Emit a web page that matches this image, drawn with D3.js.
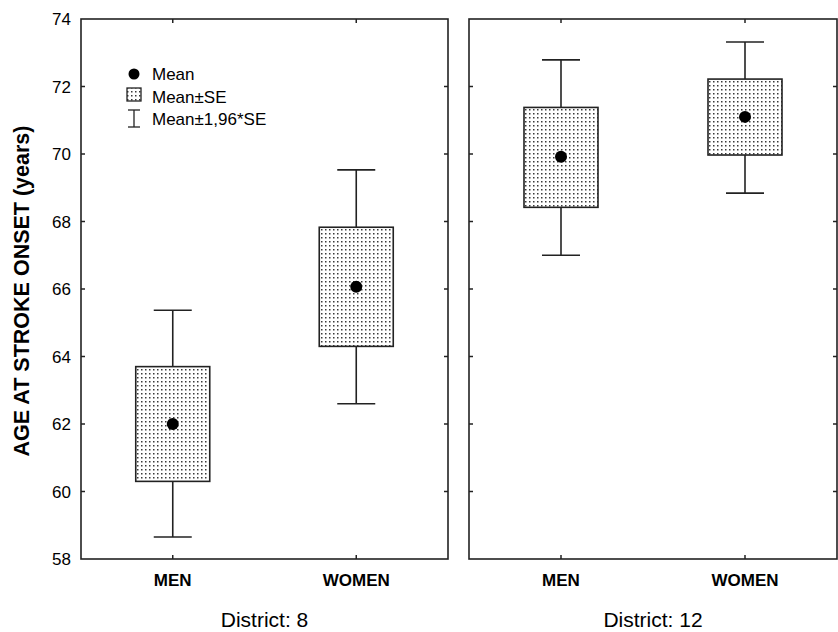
<!doctype html>
<html lang="en">
  <head>
    <meta charset="utf-8">
    <title>Age at stroke onset by district</title>
    <script src="https://d3js.org/d3.v7.min.js"></script>
    <style>
      body { margin: 0; background: #fff; }
      text { font-family: "Liberation Sans", Arial, sans-serif; fill: #000; }
    </style>
  </head>
  <body>
    <div id="container"></div>
  </body>
  <script>
    // data
    const districts = ["District: 8", "District: 12"]
    const sexes = ["MEN", "WOMEN"]
    const means = [[62.0, 66.07], [69.92, 71.1]]
    const seLow = [[60.3, 64.3], [68.42, 69.97]]
    const seHigh = [[63.7, 67.83], [71.38, 72.22]]
    const ciLow = [[58.65, 62.6], [67.0, 68.84]]
    const ciHigh = [[65.37, 69.53], [72.79, 73.32]]
    const yTicks = [58, 60, 62, 64, 66, 68, 70, 72, 74]
    const legendLabels = ["Mean", "Mean±SE", "Mean±1,96*SE"]

    const width = 838
    const height = 632
    const plotTop = 19, plotBottom = 559
    const panels = [[81, 448], [469, 837]]
    const boxW = 74, capW = 38, tickLen = 4
    const lineColor = "#222"

    const svg = d3.select("#container")
      .append("svg")
        .attr("width", width)
        .attr("height", height)

    // dotted fill for the SE boxes
    const pat = svg.append("defs").append("pattern")
      .attr("id", "dots")
      .attr("patternUnits", "userSpaceOnUse")
      .attr("width", 4)
      .attr("height", 4)
    pat.append("rect").attr("width", 4).attr("height", 4).attr("fill", "#fff")
    pat.append("rect").attr("x", 1).attr("y", 1).attr("width", 1.5).attr("height", 1.5).attr("fill", "#3a3a3a")

    const y = d3.scaleLinear().domain([58, 74]).range([plotBottom, plotTop])

    // y tick labels (left panel only)
    svg.append("g")
      .selectAll("text")
      .data(yTicks)
      .join("text")
        .attr("x", 71)
        .attr("y", d => y(d))
        .attr("dy", "0.36em")
        .attr("text-anchor", "end")
        .attr("font-size", 17)
        .text(d => d)

    svg.append("text")
      .attr("transform", `translate(29,${(plotTop + plotBottom) / 2 + 2}) rotate(-90)`)
      .attr("text-anchor", "middle")
      .attr("font-size", 21.5)
      .attr("font-weight", "bold")
      .text("AGE AT STROKE ONSET (years)")

    panels.forEach(function(p, i) {
      const g = svg.append("g")
      const x = d3.scalePoint().domain(sexes).range(p).padding(0.5)

      // inner ticks on all four sides
      g.selectAll(".yl").data(yTicks.slice(1, -1)).join("line")
        .attr("x1", p[0]).attr("x2", p[0] + tickLen)
        .attr("y1", d => y(d)).attr("y2", d => y(d))
        .attr("stroke", lineColor).attr("stroke-width", 1.5)
      g.selectAll(".yr").data(yTicks.slice(1, -1)).join("line")
        .attr("x1", p[1]).attr("x2", p[1] - tickLen)
        .attr("y1", d => y(d)).attr("y2", d => y(d))
        .attr("stroke", lineColor).attr("stroke-width", 1.5)
      g.selectAll(".xt").data(sexes).join("line")
        .attr("x1", d => x(d)).attr("x2", d => x(d))
        .attr("y1", plotTop).attr("y2", plotTop + tickLen)
        .attr("stroke", lineColor).attr("stroke-width", 1.5)
      g.selectAll(".xb").data(sexes).join("line")
        .attr("x1", d => x(d)).attr("x2", d => x(d))
        .attr("y1", plotBottom).attr("y2", plotBottom - tickLen)
        .attr("stroke", lineColor).attr("stroke-width", 1.5)

      // whiskers, SE boxes and means
      sexes.forEach(function(s, j) {
        const cx = x(s)
        g.append("line")
          .attr("x1", cx).attr("x2", cx)
          .attr("y1", y(ciLow[i][j])).attr("y2", y(ciHigh[i][j]))
          .attr("stroke", lineColor).attr("stroke-width", 1.6)
        ;[ciLow[i][j], ciHigh[i][j]].forEach(function(v) {
          g.append("line")
            .attr("x1", cx - capW / 2).attr("x2", cx + capW / 2)
            .attr("y1", y(v)).attr("y2", y(v))
            .attr("stroke", lineColor).attr("stroke-width", 1.6)
        })
        g.append("rect")
          .attr("x", cx - boxW / 2)
          .attr("y", y(seHigh[i][j]))
          .attr("width", boxW)
          .attr("height", y(seLow[i][j]) - y(seHigh[i][j]))
          .attr("fill", "url(#dots)")
          .attr("stroke", lineColor).attr("stroke-width", 1.6)
        g.append("circle")
          .attr("cx", cx).attr("cy", y(means[i][j]))
          .attr("r", 6)
          .attr("fill", "#000")
      })

      // frame
      g.append("rect")
        .attr("x", p[0]).attr("y", plotTop)
        .attr("width", p[1] - p[0]).attr("height", plotBottom - plotTop)
        .attr("fill", "none")
        .attr("stroke", lineColor).attr("stroke-width", 1.6)

      g.selectAll(".cat").data(sexes).join("text")
        .attr("x", d => x(d))
        .attr("y", 586)
        .attr("text-anchor", "middle")
        .attr("font-size", 17)
        .attr("font-weight", "bold")
        .text(d => d)

      g.append("text")
        .attr("x", (p[0] + p[1]) / 2)
        .attr("y", 627)
        .attr("text-anchor", "middle")
        .attr("font-size", 21)
        .text(districts[i])
    })

    // legend
    const leg = svg.append("g").attr("transform", "translate(134,74)")
    leg.append("circle").attr("cx", 0).attr("cy", 0).attr("r", 5.5).attr("fill", "#000")
    leg.append("rect").attr("x", -7).attr("y", 14).attr("width", 14).attr("height", 13)
      .attr("fill", "url(#dots)").attr("stroke", lineColor).attr("stroke-width", 1.3)
    leg.append("line").attr("x1", 0).attr("x2", 0).attr("y1", 36).attr("y2", 53)
      .attr("stroke", lineColor).attr("stroke-width", 1.3)
    leg.append("line").attr("x1", -6).attr("x2", 6).attr("y1", 36).attr("y2", 36)
      .attr("stroke", lineColor).attr("stroke-width", 1.3)
    leg.append("line").attr("x1", -6).attr("x2", 6).attr("y1", 53).attr("y2", 53)
      .attr("stroke", lineColor).attr("stroke-width", 1.3)
    leg.selectAll(".lt").data(legendLabels).join("text")
      .attr("x", 18)
      .attr("y", (d, k) => k * 22.5 + 6)
      .attr("font-size", 17)
      .text(d => d)
  </script>
</html>
